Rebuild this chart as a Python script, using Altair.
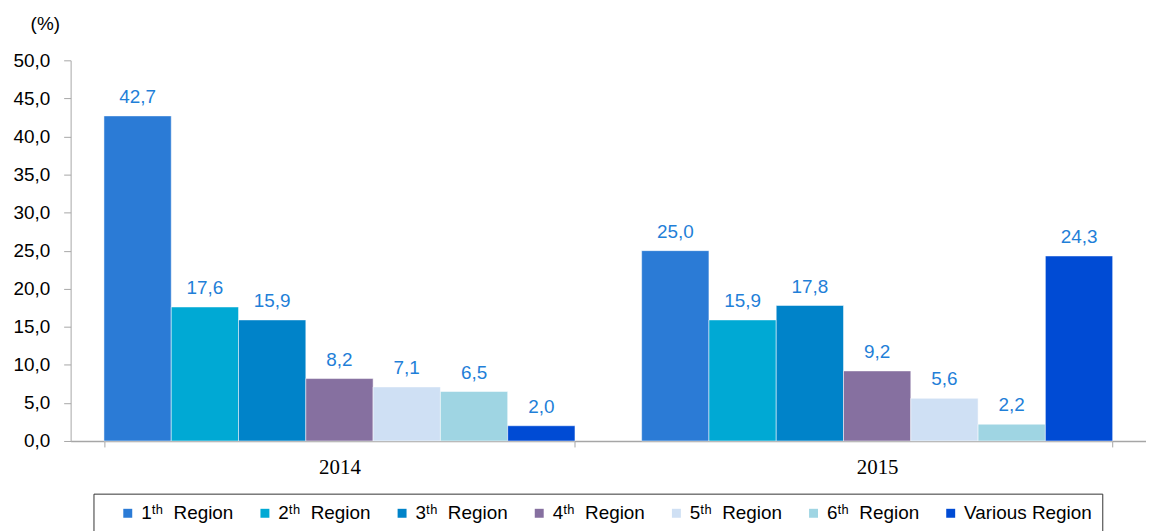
import altair as alt
import pandas as pd

years = ["2014", "2015"]
regions = ["1ᵗʰ\u00a0 Region", "2ᵗʰ\u00a0 Region", "3ᵗʰ\u00a0 Region", "4ᵗʰ\u00a0 Region",
           "5ᵗʰ\u00a0 Region", "6ᵗʰ\u00a0 Region", "Various Region"]
values_2014 = [42.7, 17.6, 15.9, 8.2, 7.1, 6.5, 2.0]
values_2015 = [25.0, 15.9, 17.8, 9.2, 5.6, 2.2, 24.3]
colors = ["#2B7BD6", "#00A9D4", "#0083C9", "#8670A0", "#CFE0F4", "#9FD5E3", "#004BD4"]

rows = []
for y, vals in zip(years, [values_2014, values_2015]):
    for i, (r, v) in enumerate(zip(regions, vals)):
        rows.append({"year": y, "region": r, "order": i, "value": v})
df = pd.DataFrame(rows)

x_enc = alt.X("year:N", scale=alt.Scale(paddingInner=0.124, paddingOuter=0.062),
              axis=alt.Axis(title=None, labelFont="Liberation Serif", labelFontSize=21,
                            labelColor="black", labelPadding=10, labelAngle=0,
                            tickBand="extent", tickSize=6, tickColor="#A6A6A6",
                            domainColor="#A6A6A6", domainWidth=1.5))
xoff = alt.XOffset("region:N", sort=regions, scale=alt.Scale(paddingInner=0, paddingOuter=0))
y_enc = alt.Y("value:Q", scale=alt.Scale(domain=[0, 50]),
              axis=alt.Axis(values=[0, 5, 10, 15, 20, 25, 30, 35, 40, 45, 50],
                            labelExpr="replace(format(datum.value, '.1f'), '.', ',')",
                            labelFont="Liberation Sans", labelFontSize=19, labelColor="black",
                            labelOverlap=False,
                            grid=False, tickSize=7, tickColor="#A6A6A6",
                            domainColor="#A6A6A6", labelPadding=14,
                            title="(%)", titleAngle=0, titleFont="Liberation Sans",
                            titleFontSize=19, titleFontWeight="normal", titleColor="black",
                            titleX=-26, titleY=-37, titleAlign="center",
                            titleBaseline="middle"))

base = alt.Chart(df)

bars = base.mark_bar(stroke="white", strokeWidth=0.5).encode(
    x=x_enc,
    xOffset=xoff,
    y=y_enc,
    color=alt.Color("region:N", sort=regions,
                    scale=alt.Scale(domain=regions, range=colors),
                    legend=alt.Legend(title=" ", titleOrient="left", titlePadding=15,
                                      titleFontSize=19,
                                      orient="none", direction="horizontal",
                                      legendX=23, legendY=436, columns=7,
                                      symbolType="square", symbolSize=81,
                                      labelFont="Liberation Sans", labelFontSize=19,
                                      labelColor="black", columnPadding=22,
                                      symbolStrokeWidth=0, labelOffset=4,
                                      strokeColor="#333333", padding=10, labelLimit=200)),
)

labels = base.mark_text(baseline="alphabetic", dy=-13, fontSize=19,
                        font="Liberation Sans", color="#1F7FD8").encode(
    x=x_enc,
    xOffset=xoff,
    y=y_enc,
    text=alt.Text("label:N"),
).transform_calculate(label="replace(format(datum.value, '.1f'), '.', ',')")

chart = alt.layer(bars, labels).properties(
    width=1082, height=383,
    padding={"left": 5, "top": 5, "right": 0, "bottom": 5},
).configure_view(stroke=None)

chart.save("out.html", embed_options={"renderer": "svg", "actions": False})
